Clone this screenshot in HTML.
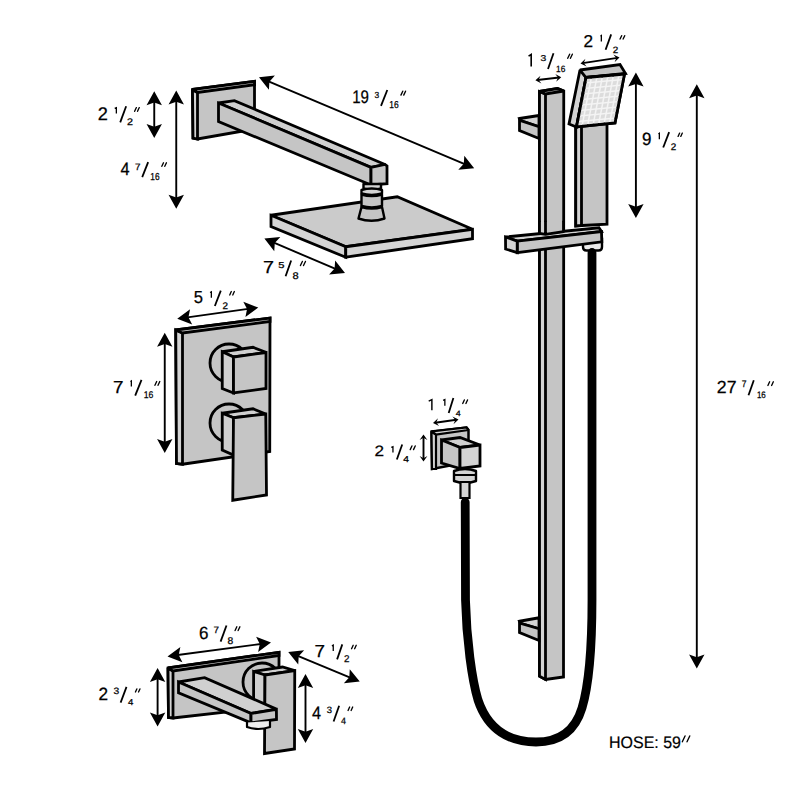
<!DOCTYPE html>
<html><head><meta charset="utf-8"><style>
html,body{margin:0;padding:0;background:#fff;width:800px;height:800px;overflow:hidden}
svg{display:block} text{text-rendering:geometricPrecision}
</style></head><body>
<svg width="800" height="800" viewBox="0 0 800 800">
<rect width="800" height="800" fill="#fff"/>
<text transform="translate(97.69,119.75) scale(0.996,1)" font-size="18.27" font-family="Liberation Sans, sans-serif" fill="#000" stroke="#000" stroke-width="0.25">2</text>
<path d="M116.35,113.40 L116.35,107.79 L114.70,108.42" fill="none" stroke="#000" stroke-width="1.30" stroke-linejoin="miter"/>
<line x1="120.19999999999999" y1="122.4" x2="126.15" y2="106.25" stroke="#000" stroke-width="1.8" stroke-linecap="butt"/>
<text transform="translate(126.96,124.60) scale(1.119,1)" font-size="9.60" font-family="Liberation Sans, sans-serif" fill="#000" stroke="#000" stroke-width="0.25">2</text>
<line x1="134.63" y1="111.33" x2="136.38" y2="107.58" stroke="#000" stroke-width="1.35" stroke-linecap="round"/>
<line x1="137.53" y1="111.33" x2="139.28" y2="107.58" stroke="#000" stroke-width="1.35" stroke-linecap="round"/>
<text transform="translate(120.62,174.90) scale(0.908,1)" font-size="18.02" font-family="Liberation Sans, sans-serif" fill="#000" stroke="#000" stroke-width="0.25">4</text>
<text transform="translate(135.10,169.60) scale(1.072,1)" font-size="9.23" font-family="Liberation Sans, sans-serif" fill="#000" stroke="#000" stroke-width="0.25">7</text>
<line x1="142.2" y1="177.1" x2="148.15" y2="162.1" stroke="#000" stroke-width="1.8" stroke-linecap="butt"/>
<text transform="translate(150.37,180.10) scale(0.818,1)" font-size="10.17" font-family="Liberation Sans, sans-serif" fill="#000" stroke="#000" stroke-width="0.25">16</text>
<line x1="161.83" y1="166.32" x2="163.48" y2="162.78" stroke="#000" stroke-width="1.35" stroke-linecap="round"/>
<line x1="164.78" y1="166.32" x2="166.43" y2="162.78" stroke="#000" stroke-width="1.35" stroke-linecap="round"/>
<text transform="translate(352.16,103.20) scale(0.828,1)" font-size="18.19" font-family="Liberation Sans, sans-serif" fill="#000" stroke="#000" stroke-width="0.25">19</text>
<text transform="translate(374.38,97.50) scale(0.966,1)" font-size="8.74" font-family="Liberation Sans, sans-serif" fill="#000" stroke="#000" stroke-width="0.25">3</text>
<line x1="381.0" y1="105.8" x2="387.29999999999995" y2="90" stroke="#000" stroke-width="1.8" stroke-linecap="butt"/>
<text transform="translate(389.36,108.40) scale(0.844,1)" font-size="10.03" font-family="Liberation Sans, sans-serif" fill="#000" stroke="#000" stroke-width="0.25">16</text>
<line x1="400.93" y1="95.12" x2="402.77" y2="91.17" stroke="#000" stroke-width="1.35" stroke-linecap="round"/>
<line x1="403.72" y1="95.12" x2="405.57" y2="91.17" stroke="#000" stroke-width="1.35" stroke-linecap="round"/>
<text transform="translate(262.99,273.25) scale(1.134,1)" font-size="17.44" font-family="Liberation Sans, sans-serif" fill="#000" stroke="#000" stroke-width="0.25">7</text>
<text transform="translate(278.15,268.00) scale(1.282,1)" font-size="8.72" font-family="Liberation Sans, sans-serif" fill="#000" stroke="#000" stroke-width="0.25">5</text>
<line x1="285.6" y1="276.25" x2="291.15" y2="260.5" stroke="#000" stroke-width="1.8" stroke-linecap="butt"/>
<text transform="translate(292.42,278.50) scale(1.144,1)" font-size="9.67" font-family="Liberation Sans, sans-serif" fill="#000" stroke="#000" stroke-width="0.25">8</text>
<line x1="300.43" y1="265.57" x2="302.36" y2="261.43" stroke="#000" stroke-width="1.35" stroke-linecap="round"/>
<line x1="303.52" y1="265.57" x2="305.46" y2="261.43" stroke="#000" stroke-width="1.35" stroke-linecap="round"/>
<path d="M531.19,66.40 L531.19,54.48 L528.55,56.11" fill="none" stroke="#000" stroke-width="1.61" stroke-linejoin="miter"/>
<text transform="translate(540.61,60.75) scale(1.203,1)" font-size="8.60" font-family="Liberation Sans, sans-serif" fill="#000" stroke="#000" stroke-width="0.25">3</text>
<line x1="548.0" y1="69" x2="553.5" y2="53.25" stroke="#000" stroke-width="1.8" stroke-linecap="butt"/>
<text transform="translate(556.12,71.60) scale(0.914,1)" font-size="9.10" font-family="Liberation Sans, sans-serif" fill="#000" stroke="#000" stroke-width="0.25">16</text>
<line x1="567.72" y1="58.33" x2="569.66" y2="54.17" stroke="#000" stroke-width="1.35" stroke-linecap="round"/>
<line x1="570.42" y1="58.33" x2="572.36" y2="54.17" stroke="#000" stroke-width="1.35" stroke-linecap="round"/>
<text transform="translate(583.54,46.75) scale(1.001,1)" font-size="17.19" font-family="Liberation Sans, sans-serif" fill="#000" stroke="#000" stroke-width="0.25">2</text>
<path d="M601.35,41.50 L601.35,35.49 L600.40,36.19" fill="none" stroke="#000" stroke-width="1.30" stroke-linejoin="miter"/>
<line x1="605.6" y1="49.75" x2="611.15" y2="34.4" stroke="#000" stroke-width="1.8" stroke-linecap="butt"/>
<text transform="translate(612.76,52.75) scale(1.085,1)" font-size="9.10" font-family="Liberation Sans, sans-serif" fill="#000" stroke="#000" stroke-width="0.25">2</text>
<line x1="620.07" y1="39.08" x2="621.66" y2="35.67" stroke="#000" stroke-width="1.35" stroke-linecap="round"/>
<line x1="623.12" y1="39.08" x2="624.71" y2="35.67" stroke="#000" stroke-width="1.35" stroke-linecap="round"/>
<text transform="translate(641.95,144.90) scale(0.956,1)" font-size="17.77" font-family="Liberation Sans, sans-serif" fill="#000" stroke="#000" stroke-width="0.25">9</text>
<path d="M659.35,139.25 L659.35,133.29 L658.40,133.98" fill="none" stroke="#000" stroke-width="1.30" stroke-linejoin="miter"/>
<line x1="663.2" y1="147.5" x2="669.15" y2="132.1" stroke="#000" stroke-width="1.8" stroke-linecap="butt"/>
<text transform="translate(670.76,150.10) scale(1.028,1)" font-size="9.60" font-family="Liberation Sans, sans-serif" fill="#000" stroke="#000" stroke-width="0.25">2</text>
<line x1="678.07" y1="136.42" x2="679.64" y2="133.08" stroke="#000" stroke-width="1.35" stroke-linecap="round"/>
<line x1="680.77" y1="136.42" x2="682.34" y2="133.08" stroke="#000" stroke-width="1.35" stroke-linecap="round"/>
<text transform="translate(716.82,393.00) scale(1.008,1)" font-size="17.55" font-family="Liberation Sans, sans-serif" fill="#000" stroke="#000" stroke-width="0.25">27</text>
<text transform="translate(741.76,386.90) scale(0.894,1)" font-size="9.59" font-family="Liberation Sans, sans-serif" fill="#000" stroke="#000" stroke-width="0.25">7</text>
<line x1="748.5" y1="395.2" x2="753.8" y2="380.3" stroke="#000" stroke-width="1.8" stroke-linecap="butt"/>
<text transform="translate(756.89,397.80) scale(0.849,1)" font-size="9.38" font-family="Liberation Sans, sans-serif" fill="#000" stroke="#000" stroke-width="0.25">16</text>
<line x1="767.92" y1="385.43" x2="769.63" y2="381.78" stroke="#000" stroke-width="1.35" stroke-linecap="round"/>
<line x1="771.62" y1="385.43" x2="773.33" y2="381.78" stroke="#000" stroke-width="1.35" stroke-linecap="round"/>
<text transform="translate(193.74,303.00) scale(0.950,1)" font-size="17.44" font-family="Liberation Sans, sans-serif" fill="#000" stroke="#000" stroke-width="0.25">5</text>
<path d="M211.35,297.75 L211.35,291.79 L210.05,292.48" fill="none" stroke="#000" stroke-width="1.30" stroke-linejoin="miter"/>
<line x1="214.85" y1="306" x2="220.8" y2="290.6" stroke="#000" stroke-width="1.8" stroke-linecap="butt"/>
<text transform="translate(222.41,308.60) scale(1.028,1)" font-size="9.60" font-family="Liberation Sans, sans-serif" fill="#000" stroke="#000" stroke-width="0.25">2</text>
<line x1="229.73" y1="294.93" x2="231.29" y2="291.57" stroke="#000" stroke-width="1.35" stroke-linecap="round"/>
<line x1="232.78" y1="294.93" x2="234.34" y2="291.57" stroke="#000" stroke-width="1.35" stroke-linecap="round"/>
<text transform="translate(113.04,392.60) scale(1.084,1)" font-size="17.44" font-family="Liberation Sans, sans-serif" fill="#000" stroke="#000" stroke-width="0.25">7</text>
<path d="M131.35,386.60 L131.35,380.99 L130.40,381.62" fill="none" stroke="#000" stroke-width="1.30" stroke-linejoin="miter"/>
<line x1="135.2" y1="395.6" x2="141.5" y2="379.9" stroke="#000" stroke-width="1.8" stroke-linecap="butt"/>
<text transform="translate(143.74,397.90) scale(0.890,1)" font-size="9.74" font-family="Liberation Sans, sans-serif" fill="#000" stroke="#000" stroke-width="0.25">16</text>
<line x1="154.93" y1="385.32" x2="156.68" y2="381.57" stroke="#000" stroke-width="1.35" stroke-linecap="round"/>
<line x1="158.03" y1="385.32" x2="159.78" y2="381.57" stroke="#000" stroke-width="1.35" stroke-linecap="round"/>
<path d="M431.88,410.30 L431.88,399.63 L428.70,401.09" fill="none" stroke="#000" stroke-width="1.44" stroke-linejoin="miter"/>
<path d="M444.85,405.70 L444.85,399.59 L443.10,400.31" fill="none" stroke="#000" stroke-width="1.30" stroke-linejoin="miter"/>
<line x1="448.70000000000005" y1="413" x2="453.4" y2="397.9" stroke="#000" stroke-width="1.8" stroke-linecap="butt"/>
<text transform="translate(455.79,415.60) scale(1.159,1)" font-size="7.70" font-family="Liberation Sans, sans-serif" fill="#000" stroke="#000" stroke-width="0.25">4</text>
<line x1="462.72" y1="403.43" x2="464.33" y2="399.98" stroke="#000" stroke-width="1.35" stroke-linecap="round"/>
<line x1="465.92" y1="403.43" x2="467.53" y2="399.98" stroke="#000" stroke-width="1.35" stroke-linecap="round"/>
<text transform="translate(374.39,456.30) scale(1.144,1)" font-size="15.04" font-family="Liberation Sans, sans-serif" fill="#000" stroke="#000" stroke-width="0.25">2</text>
<path d="M392.95,452.50 L392.95,446.79 L391.30,447.44" fill="none" stroke="#000" stroke-width="1.30" stroke-linejoin="miter"/>
<line x1="396.85" y1="459.55" x2="402.2" y2="444.5" stroke="#000" stroke-width="1.8" stroke-linecap="butt"/>
<text transform="translate(403.26,461.50) scale(1.203,1)" font-size="8.58" font-family="Liberation Sans, sans-serif" fill="#000" stroke="#000" stroke-width="0.25">4</text>
<line x1="410.22" y1="449.62" x2="411.93" y2="445.98" stroke="#000" stroke-width="1.35" stroke-linecap="round"/>
<line x1="413.52" y1="449.62" x2="415.23" y2="445.98" stroke="#000" stroke-width="1.35" stroke-linecap="round"/>
<text transform="translate(198.88,638.60) scale(0.962,1)" font-size="17.69" font-family="Liberation Sans, sans-serif" fill="#000" stroke="#000" stroke-width="0.25">6</text>
<text transform="translate(213.50,632.60) scale(1.072,1)" font-size="9.23" font-family="Liberation Sans, sans-serif" fill="#000" stroke="#000" stroke-width="0.25">7</text>
<line x1="220.6" y1="641.6" x2="226.5" y2="625.5" stroke="#000" stroke-width="1.8" stroke-linecap="butt"/>
<text transform="translate(227.46,643.90) scale(1.059,1)" font-size="9.74" font-family="Liberation Sans, sans-serif" fill="#000" stroke="#000" stroke-width="0.25">8</text>
<line x1="235.08" y1="630.58" x2="236.85" y2="626.77" stroke="#000" stroke-width="1.35" stroke-linecap="round"/>
<line x1="238.12" y1="630.58" x2="239.90" y2="626.77" stroke="#000" stroke-width="1.35" stroke-linecap="round"/>
<text transform="translate(314.54,656.75) scale(1.084,1)" font-size="17.44" font-family="Liberation Sans, sans-serif" fill="#000" stroke="#000" stroke-width="0.25">7</text>
<path d="M333.25,651.10 L333.25,645.14 L331.90,645.83" fill="none" stroke="#000" stroke-width="1.30" stroke-linejoin="miter"/>
<line x1="337.1" y1="659.4" x2="342.29999999999995" y2="644.4" stroke="#000" stroke-width="1.8" stroke-linecap="butt"/>
<text transform="translate(343.91,662.40) scale(1.013,1)" font-size="9.74" font-family="Liberation Sans, sans-serif" fill="#000" stroke="#000" stroke-width="0.25">2</text>
<line x1="351.57" y1="648.73" x2="353.18" y2="645.27" stroke="#000" stroke-width="1.35" stroke-linecap="round"/>
<line x1="354.62" y1="648.73" x2="356.23" y2="645.27" stroke="#000" stroke-width="1.35" stroke-linecap="round"/>
<text transform="translate(98.54,700.00) scale(0.969,1)" font-size="17.77" font-family="Liberation Sans, sans-serif" fill="#000" stroke="#000" stroke-width="0.25">2</text>
<text transform="translate(113.61,694.40) scale(1.127,1)" font-size="9.17" font-family="Liberation Sans, sans-serif" fill="#000" stroke="#000" stroke-width="0.25">3</text>
<line x1="120.6" y1="702.6" x2="126.5" y2="686.9" stroke="#000" stroke-width="1.8" stroke-linecap="butt"/>
<text transform="translate(128.03,704.90) scale(1.103,1)" font-size="8.72" font-family="Liberation Sans, sans-serif" fill="#000" stroke="#000" stroke-width="0.25">4</text>
<line x1="135.43" y1="691.93" x2="136.83" y2="688.92" stroke="#000" stroke-width="1.35" stroke-linecap="round"/>
<line x1="138.53" y1="691.93" x2="139.93" y2="688.92" stroke="#000" stroke-width="1.35" stroke-linecap="round"/>
<text transform="translate(312.03,718.90) scale(0.903,1)" font-size="18.02" font-family="Liberation Sans, sans-serif" fill="#000" stroke="#000" stroke-width="0.25">4</text>
<text transform="translate(326.64,713.25) scale(1.044,1)" font-size="9.10" font-family="Liberation Sans, sans-serif" fill="#000" stroke="#000" stroke-width="0.25">3</text>
<line x1="333.6" y1="721.5" x2="339.15" y2="705.75" stroke="#000" stroke-width="1.8" stroke-linecap="butt"/>
<text transform="translate(341.04,723.75) scale(0.967,1)" font-size="9.23" font-family="Liberation Sans, sans-serif" fill="#000" stroke="#000" stroke-width="0.25">4</text>
<line x1="348.07" y1="710.43" x2="349.64" y2="707.07" stroke="#000" stroke-width="1.35" stroke-linecap="round"/>
<line x1="351.12" y1="710.43" x2="352.69" y2="707.07" stroke="#000" stroke-width="1.35" stroke-linecap="round"/>
<text x="609" y="747.5" font-size="16.6" font-family="Liberation Sans, sans-serif" fill="#000" stroke="#000" stroke-width="0.2" textLength="72" lengthAdjust="spacingAndGlyphs">HOSE: 59</text>
<line x1="682.32" y1="741.83" x2="685.05" y2="735.97" stroke="#000" stroke-width="1.35" stroke-linecap="round"/>
<line x1="687.02" y1="741.83" x2="689.75" y2="735.97" stroke="#000" stroke-width="1.35" stroke-linecap="round"/>
<line x1="154.25" y1="101.55" x2="154.25" y2="127.7" stroke="#000" stroke-width="1.9" stroke-linecap="butt"/>
<polygon points="154.25,91.25 161.95,105.25 154.25,102.55 146.55,105.25" fill="#000"/>
<polygon points="154.25,138.00 146.55,124.00 154.25,126.70 161.95,124.00" fill="#000"/>
<line x1="176.25" y1="100.8" x2="176.25" y2="198.45" stroke="#000" stroke-width="1.9" stroke-linecap="butt"/>
<polygon points="176.25,90.50 183.95,104.50 176.25,101.80 168.55,104.50" fill="#000"/>
<polygon points="176.25,208.75 168.55,194.75 176.25,197.45 183.95,194.75" fill="#000"/>
<line x1="268.4874831934045" y1="81.25969608011218" x2="464.7125168065955" y2="164.1903039198878" stroke="#000" stroke-width="1.9" stroke-linecap="butt"/>
<polygon points="259.00,77.25 274.89,75.61 269.41,81.65 268.90,89.79" fill="#000"/>
<polygon points="474.20,168.20 458.31,169.84 463.79,163.80 464.30,155.66" fill="#000"/>
<line x1="273.8732625410399" y1="242.64317904977383" x2="335.5267374589601" y2="268.95682095022613" stroke="#000" stroke-width="1.9" stroke-linecap="butt"/>
<polygon points="264.40,238.60 280.30,237.01 274.79,243.04 274.25,251.18" fill="#000"/>
<polygon points="345.00,273.00 329.10,274.59 334.61,268.56 335.15,260.42" fill="#000"/>
<line x1="537.5853325722464" y1="79.9963830670507" x2="559.0646674277535" y2="77.5036169329493" stroke="#000" stroke-width="1.9" stroke-linecap="butt"/>
<polygon points="535.40,80.25 540.51,75.73 538.58,79.88 541.41,83.48" fill="#000"/>
<polygon points="561.25,77.25 556.14,81.77 558.07,77.62 555.24,74.02" fill="#000"/>
<line x1="582.6744177348313" y1="63.16547419464133" x2="617.3255822651687" y2="57.83452580535867" stroke="#000" stroke-width="1.9" stroke-linecap="butt"/>
<polygon points="580.50,63.50 585.44,58.79 583.66,63.01 586.63,66.50" fill="#000"/>
<polygon points="619.50,57.50 614.56,62.21 616.34,57.99 613.37,54.50" fill="#000"/>
<line x1="635.9" y1="82.89999999999999" x2="635.9" y2="207.7" stroke="#000" stroke-width="1.9" stroke-linecap="butt"/>
<polygon points="635.90,72.60 643.60,86.60 635.90,83.90 628.20,86.60" fill="#000"/>
<polygon points="635.90,218.00 628.20,204.00 635.90,206.70 643.60,204.00" fill="#000"/>
<line x1="696.8" y1="94.6" x2="696.8" y2="658.2" stroke="#000" stroke-width="1.9" stroke-linecap="butt"/>
<polygon points="696.80,84.30 704.50,98.30 696.80,95.60 689.10,98.30" fill="#000"/>
<polygon points="696.80,668.50 689.10,654.50 696.80,657.20 704.50,654.50" fill="#000"/>
<line x1="187.45207041373084" y1="317.33304577587074" x2="248.04792958626916" y2="308.91695422412926" stroke="#000" stroke-width="1.9" stroke-linecap="butt"/>
<polygon points="177.25,318.75 190.06,309.20 188.44,317.20 192.18,324.45" fill="#000"/>
<polygon points="258.25,307.50 245.44,317.05 247.06,309.05 243.32,301.80" fill="#000"/>
<line x1="164.75" y1="343.05" x2="164.75" y2="442.7" stroke="#000" stroke-width="1.9" stroke-linecap="butt"/>
<polygon points="164.75,332.75 172.45,346.75 164.75,344.05 157.05,346.75" fill="#000"/>
<polygon points="164.75,453.00 157.05,439.00 164.75,441.70 172.45,439.00" fill="#000"/>
<line x1="435.1795654751297" y1="422.700843954394" x2="456.3204345248703" y2="419.799156045606" stroke="#000" stroke-width="1.9" stroke-linecap="butt"/>
<polygon points="433.00,423.00 438.02,418.37 436.17,422.56 439.08,426.10" fill="#000"/>
<polygon points="458.50,419.50 453.48,424.13 455.33,419.94 452.42,416.40" fill="#000"/>
<line x1="423.5" y1="436.7" x2="423.5" y2="459.3" stroke="#000" stroke-width="1.9" stroke-linecap="butt"/>
<polygon points="423.50,434.50 427.40,440.10 423.50,437.70 419.60,440.10" fill="#000"/>
<polygon points="423.50,461.50 419.60,455.90 423.50,458.30 427.40,455.90" fill="#000"/>
<line x1="177.70964737703113" y1="655.0387136830625" x2="260.79035262296884" y2="643.9612863169375" stroke="#000" stroke-width="1.9" stroke-linecap="butt"/>
<polygon points="167.50,656.40 180.36,646.92 178.70,654.91 182.39,662.18" fill="#000"/>
<polygon points="271.00,642.60 258.14,652.08 259.80,644.09 256.11,636.82" fill="#000"/>
<line x1="297.7667246306418" y1="655.9397908960419" x2="350.2332753693582" y2="677.6602091039581" stroke="#000" stroke-width="1.9" stroke-linecap="butt"/>
<polygon points="288.25,652.00 304.13,650.24 298.69,656.32 298.24,664.47" fill="#000"/>
<polygon points="359.75,681.60 343.87,683.36 349.31,677.28 349.76,669.13" fill="#000"/>
<line x1="157.6" y1="678.3" x2="157.6" y2="716.2" stroke="#000" stroke-width="1.9" stroke-linecap="butt"/>
<polygon points="157.60,668.00 165.30,682.00 157.60,679.30 149.90,682.00" fill="#000"/>
<polygon points="157.60,726.50 149.90,712.50 157.60,715.20 165.30,712.50" fill="#000"/>
<line x1="305.5" y1="684.3" x2="305.5" y2="732.7" stroke="#000" stroke-width="1.9" stroke-linecap="butt"/>
<polygon points="305.50,674.00 313.20,688.00 305.50,685.30 297.80,688.00" fill="#000"/>
<polygon points="305.50,743.00 297.80,729.00 305.50,731.70 313.20,729.00" fill="#000"/>
<polygon points="192.50,89.50 254.50,81.25 254.50,129.00 197.50,139.00 193.00,138.00" fill="#c5c5c5" stroke="#000" stroke-width="2.8" stroke-linejoin="miter" stroke-miterlimit="2"/>
<polygon points="192.50,89.50 197.50,92.50 197.50,139.00 193.00,138.00" fill="#d4d4d4" stroke="#000" stroke-width="2.8" stroke-linejoin="miter" stroke-miterlimit="2"/>
<polygon points="192.50,89.50 254.50,81.25 254.50,84.75 197.50,92.50" fill="#d4d4d4" stroke="#000" stroke-width="2.8" stroke-linejoin="miter" stroke-miterlimit="2"/>
<polygon points="218.50,103.00 234.40,100.60 385.00,164.50 371.00,167.40" fill="#d0d0d0" stroke="#000" stroke-width="2.8" stroke-linejoin="miter" stroke-miterlimit="2"/>
<polygon points="218.50,103.00 371.00,167.40 371.00,185.00 218.50,121.60" fill="#c5c5c5" stroke="#000" stroke-width="2.8" stroke-linejoin="miter" stroke-miterlimit="2"/>
<polygon points="371.00,167.40 385.00,164.50 387.00,166.00 387.00,183.70 371.00,185.00" fill="#c5c5c5" stroke="#000" stroke-width="2.8" stroke-linejoin="miter" stroke-miterlimit="2"/>
<polygon points="271.00,215.25 397.25,196.75 472.50,229.25 345.75,246.75" fill="#cbcbcb" stroke="#000" stroke-width="2.8" stroke-linejoin="miter" stroke-miterlimit="2"/>
<polygon points="271.00,215.25 345.75,246.75 345.75,257.25 271.00,226.50" fill="#d4d4d4" stroke="#000" stroke-width="2.8" stroke-linejoin="miter" stroke-miterlimit="2"/>
<polygon points="345.75,246.75 472.50,229.25 472.50,238.75 345.75,257.25" fill="#d4d4d4" stroke="#000" stroke-width="2.8" stroke-linejoin="miter" stroke-miterlimit="2"/>
<path d="M363.5,184 L363.5,188.5 Q372.25,191.5 381,188.5 L381,184 Z" fill="#d4d4d4" stroke="#000" stroke-width="2.4" stroke-linejoin="round" stroke-linecap="round" />
<path d="M361.5,190 Q371.75,187 382,190 L382,193.5 Q371.75,196.5 361.5,193.5 Z" fill="#d4d4d4" stroke="#000" stroke-width="2.4" stroke-linejoin="round" stroke-linecap="round" />
<path d="M361.5,194.5 Q371.75,197.5 382,194.5 L382,206 Q371.75,209 361.5,206 Z" fill="#c5c5c5" stroke="#000" stroke-width="2.4" stroke-linejoin="round" stroke-linecap="round" />
<path d="M361.5,207 Q371.75,210 382,207 L384.5,218.5 Q371.5,223 358.5,218.5 Z" fill="#c5c5c5" stroke="#000" stroke-width="2.4" stroke-linejoin="round" stroke-linecap="round" />
<polygon points="539.50,91.50 557.50,88.50 563.75,91.00 563.50,677.00 545.50,679.50 539.50,676.25" fill="#c5c5c5" stroke="#000" stroke-width="2.8" stroke-linejoin="miter" stroke-miterlimit="2"/>
<polygon points="539.50,91.50 545.50,94.00 545.50,679.50 539.50,676.25" fill="#d4d4d4" stroke="#000" stroke-width="2.8" stroke-linejoin="miter" stroke-miterlimit="2"/>
<polygon points="539.50,91.50 557.50,88.50 563.75,91.00 545.50,94.00" fill="#d4d4d4" stroke="#000" stroke-width="2.8" stroke-linejoin="miter" stroke-miterlimit="2"/>
<polygon points="519.50,118.50 539.00,115.50 539.00,126.75 520.50,120.50" fill="#d4d4d4" stroke="#000" stroke-width="2.8" stroke-linejoin="miter" stroke-miterlimit="2"/>
<polygon points="519.50,118.50 520.50,120.50 539.00,126.75 539.00,138.50 519.50,130.50" fill="#c5c5c5" stroke="#000" stroke-width="2.8" stroke-linejoin="miter" stroke-miterlimit="2"/>
<polygon points="519.50,621.25 539.00,617.75 539.00,628.75 520.50,623.25" fill="#d4d4d4" stroke="#000" stroke-width="2.8" stroke-linejoin="miter" stroke-miterlimit="2"/>
<polygon points="519.50,621.25 520.50,623.25 539.00,628.75 539.00,640.50 519.50,632.50" fill="#c5c5c5" stroke="#000" stroke-width="2.8" stroke-linejoin="miter" stroke-miterlimit="2"/>
<polygon points="575.75,120.00 607.00,116.00 607.00,224.25 582.00,225.50 575.75,226.00" fill="#c5c5c5" stroke="#000" stroke-width="2.8" stroke-linejoin="miter" stroke-miterlimit="2"/>
<polygon points="575.75,120.00 581.50,120.00 581.50,225.50 575.75,226.00" fill="#d4d4d4" stroke="#000" stroke-width="2.8" stroke-linejoin="miter" stroke-miterlimit="2"/>
<polygon points="580.00,70.00 586.00,77.50 576.50,127.00 569.00,124.00" fill="#d4d4d4" stroke="#000" stroke-width="2.8" stroke-linejoin="miter" stroke-miterlimit="2"/>
<polygon points="580.00,70.00 620.00,64.50 625.50,73.50 586.00,77.50" fill="#c4c4c4" stroke="#000" stroke-width="2.8" stroke-linejoin="miter" stroke-miterlimit="2"/>
<polygon points="586.00,77.50 624.50,74.00 615.00,123.00 576.50,127.00" fill="#f4f4f4" stroke="#000" stroke-width="2.8" stroke-linejoin="miter" stroke-miterlimit="2"/>
<rect x="-0.36" y="-0.36" width="0.72" height="0.72" fill="#dcdcdc" transform="matrix(5.500,-0.500,-1.056,5.500,588.22,80.00)"/>
<rect x="-0.36" y="-0.36" width="0.72" height="0.72" fill="#dcdcdc" transform="matrix(5.500,-0.500,-1.056,5.500,587.17,85.50)"/>
<rect x="-0.36" y="-0.36" width="0.72" height="0.72" fill="#dcdcdc" transform="matrix(5.500,-0.500,-1.056,5.500,586.11,91.00)"/>
<rect x="-0.36" y="-0.36" width="0.72" height="0.72" fill="#dcdcdc" transform="matrix(5.500,-0.500,-1.056,5.500,585.06,96.50)"/>
<rect x="-0.36" y="-0.36" width="0.72" height="0.72" fill="#dcdcdc" transform="matrix(5.500,-0.500,-1.056,5.500,584.00,102.00)"/>
<rect x="-0.36" y="-0.36" width="0.72" height="0.72" fill="#dcdcdc" transform="matrix(5.500,-0.500,-1.056,5.500,582.94,107.50)"/>
<rect x="-0.36" y="-0.36" width="0.72" height="0.72" fill="#dcdcdc" transform="matrix(5.500,-0.500,-1.056,5.500,581.89,113.00)"/>
<rect x="-0.36" y="-0.36" width="0.72" height="0.72" fill="#dcdcdc" transform="matrix(5.500,-0.500,-1.056,5.500,580.83,118.50)"/>
<rect x="-0.36" y="-0.36" width="0.72" height="0.72" fill="#dcdcdc" transform="matrix(5.500,-0.500,-1.056,5.500,579.78,124.00)"/>
<rect x="-0.36" y="-0.36" width="0.72" height="0.72" fill="#dcdcdc" transform="matrix(5.500,-0.500,-1.056,5.500,593.72,79.50)"/>
<rect x="-0.36" y="-0.36" width="0.72" height="0.72" fill="#dcdcdc" transform="matrix(5.500,-0.500,-1.056,5.500,592.67,85.00)"/>
<rect x="-0.36" y="-0.36" width="0.72" height="0.72" fill="#dcdcdc" transform="matrix(5.500,-0.500,-1.056,5.500,591.61,90.50)"/>
<rect x="-0.36" y="-0.36" width="0.72" height="0.72" fill="#dcdcdc" transform="matrix(5.500,-0.500,-1.056,5.500,590.56,96.00)"/>
<rect x="-0.36" y="-0.36" width="0.72" height="0.72" fill="#dcdcdc" transform="matrix(5.500,-0.500,-1.056,5.500,589.50,101.50)"/>
<rect x="-0.36" y="-0.36" width="0.72" height="0.72" fill="#dcdcdc" transform="matrix(5.500,-0.500,-1.056,5.500,588.44,107.00)"/>
<rect x="-0.36" y="-0.36" width="0.72" height="0.72" fill="#dcdcdc" transform="matrix(5.500,-0.500,-1.056,5.500,587.39,112.50)"/>
<rect x="-0.36" y="-0.36" width="0.72" height="0.72" fill="#dcdcdc" transform="matrix(5.500,-0.500,-1.056,5.500,586.33,118.00)"/>
<rect x="-0.36" y="-0.36" width="0.72" height="0.72" fill="#dcdcdc" transform="matrix(5.500,-0.500,-1.056,5.500,585.28,123.50)"/>
<rect x="-0.36" y="-0.36" width="0.72" height="0.72" fill="#dcdcdc" transform="matrix(5.500,-0.500,-1.056,5.500,599.22,79.00)"/>
<rect x="-0.36" y="-0.36" width="0.72" height="0.72" fill="#dcdcdc" transform="matrix(5.500,-0.500,-1.056,5.500,598.17,84.50)"/>
<rect x="-0.36" y="-0.36" width="0.72" height="0.72" fill="#dcdcdc" transform="matrix(5.500,-0.500,-1.056,5.500,597.11,90.00)"/>
<rect x="-0.36" y="-0.36" width="0.72" height="0.72" fill="#dcdcdc" transform="matrix(5.500,-0.500,-1.056,5.500,596.06,95.50)"/>
<rect x="-0.36" y="-0.36" width="0.72" height="0.72" fill="#dcdcdc" transform="matrix(5.500,-0.500,-1.056,5.500,595.00,101.00)"/>
<rect x="-0.36" y="-0.36" width="0.72" height="0.72" fill="#dcdcdc" transform="matrix(5.500,-0.500,-1.056,5.500,593.94,106.50)"/>
<rect x="-0.36" y="-0.36" width="0.72" height="0.72" fill="#dcdcdc" transform="matrix(5.500,-0.500,-1.056,5.500,592.89,112.00)"/>
<rect x="-0.36" y="-0.36" width="0.72" height="0.72" fill="#dcdcdc" transform="matrix(5.500,-0.500,-1.056,5.500,591.83,117.50)"/>
<rect x="-0.36" y="-0.36" width="0.72" height="0.72" fill="#dcdcdc" transform="matrix(5.500,-0.500,-1.056,5.500,590.78,123.00)"/>
<rect x="-0.36" y="-0.36" width="0.72" height="0.72" fill="#dcdcdc" transform="matrix(5.500,-0.500,-1.056,5.500,604.72,78.50)"/>
<rect x="-0.36" y="-0.36" width="0.72" height="0.72" fill="#dcdcdc" transform="matrix(5.500,-0.500,-1.056,5.500,603.67,84.00)"/>
<rect x="-0.36" y="-0.36" width="0.72" height="0.72" fill="#dcdcdc" transform="matrix(5.500,-0.500,-1.056,5.500,602.61,89.50)"/>
<rect x="-0.36" y="-0.36" width="0.72" height="0.72" fill="#dcdcdc" transform="matrix(5.500,-0.500,-1.056,5.500,601.56,95.00)"/>
<rect x="-0.36" y="-0.36" width="0.72" height="0.72" fill="#dcdcdc" transform="matrix(5.500,-0.500,-1.056,5.500,600.50,100.50)"/>
<rect x="-0.36" y="-0.36" width="0.72" height="0.72" fill="#dcdcdc" transform="matrix(5.500,-0.500,-1.056,5.500,599.44,106.00)"/>
<rect x="-0.36" y="-0.36" width="0.72" height="0.72" fill="#dcdcdc" transform="matrix(5.500,-0.500,-1.056,5.500,598.39,111.50)"/>
<rect x="-0.36" y="-0.36" width="0.72" height="0.72" fill="#dcdcdc" transform="matrix(5.500,-0.500,-1.056,5.500,597.33,117.00)"/>
<rect x="-0.36" y="-0.36" width="0.72" height="0.72" fill="#dcdcdc" transform="matrix(5.500,-0.500,-1.056,5.500,596.28,122.50)"/>
<rect x="-0.36" y="-0.36" width="0.72" height="0.72" fill="#dcdcdc" transform="matrix(5.500,-0.500,-1.056,5.500,610.22,78.00)"/>
<rect x="-0.36" y="-0.36" width="0.72" height="0.72" fill="#dcdcdc" transform="matrix(5.500,-0.500,-1.056,5.500,609.17,83.50)"/>
<rect x="-0.36" y="-0.36" width="0.72" height="0.72" fill="#dcdcdc" transform="matrix(5.500,-0.500,-1.056,5.500,608.11,89.00)"/>
<rect x="-0.36" y="-0.36" width="0.72" height="0.72" fill="#dcdcdc" transform="matrix(5.500,-0.500,-1.056,5.500,607.06,94.50)"/>
<rect x="-0.36" y="-0.36" width="0.72" height="0.72" fill="#dcdcdc" transform="matrix(5.500,-0.500,-1.056,5.500,606.00,100.00)"/>
<rect x="-0.36" y="-0.36" width="0.72" height="0.72" fill="#dcdcdc" transform="matrix(5.500,-0.500,-1.056,5.500,604.94,105.50)"/>
<rect x="-0.36" y="-0.36" width="0.72" height="0.72" fill="#dcdcdc" transform="matrix(5.500,-0.500,-1.056,5.500,603.89,111.00)"/>
<rect x="-0.36" y="-0.36" width="0.72" height="0.72" fill="#dcdcdc" transform="matrix(5.500,-0.500,-1.056,5.500,602.83,116.50)"/>
<rect x="-0.36" y="-0.36" width="0.72" height="0.72" fill="#dcdcdc" transform="matrix(5.500,-0.500,-1.056,5.500,601.78,122.00)"/>
<rect x="-0.36" y="-0.36" width="0.72" height="0.72" fill="#dcdcdc" transform="matrix(5.500,-0.500,-1.056,5.500,615.72,77.50)"/>
<rect x="-0.36" y="-0.36" width="0.72" height="0.72" fill="#dcdcdc" transform="matrix(5.500,-0.500,-1.056,5.500,614.67,83.00)"/>
<rect x="-0.36" y="-0.36" width="0.72" height="0.72" fill="#dcdcdc" transform="matrix(5.500,-0.500,-1.056,5.500,613.61,88.50)"/>
<rect x="-0.36" y="-0.36" width="0.72" height="0.72" fill="#dcdcdc" transform="matrix(5.500,-0.500,-1.056,5.500,612.56,94.00)"/>
<rect x="-0.36" y="-0.36" width="0.72" height="0.72" fill="#dcdcdc" transform="matrix(5.500,-0.500,-1.056,5.500,611.50,99.50)"/>
<rect x="-0.36" y="-0.36" width="0.72" height="0.72" fill="#dcdcdc" transform="matrix(5.500,-0.500,-1.056,5.500,610.44,105.00)"/>
<rect x="-0.36" y="-0.36" width="0.72" height="0.72" fill="#dcdcdc" transform="matrix(5.500,-0.500,-1.056,5.500,609.39,110.50)"/>
<rect x="-0.36" y="-0.36" width="0.72" height="0.72" fill="#dcdcdc" transform="matrix(5.500,-0.500,-1.056,5.500,608.33,116.00)"/>
<rect x="-0.36" y="-0.36" width="0.72" height="0.72" fill="#dcdcdc" transform="matrix(5.500,-0.500,-1.056,5.500,607.28,121.50)"/>
<rect x="-0.36" y="-0.36" width="0.72" height="0.72" fill="#dcdcdc" transform="matrix(5.500,-0.500,-1.056,5.500,621.22,77.00)"/>
<rect x="-0.36" y="-0.36" width="0.72" height="0.72" fill="#dcdcdc" transform="matrix(5.500,-0.500,-1.056,5.500,620.17,82.50)"/>
<rect x="-0.36" y="-0.36" width="0.72" height="0.72" fill="#dcdcdc" transform="matrix(5.500,-0.500,-1.056,5.500,619.11,88.00)"/>
<rect x="-0.36" y="-0.36" width="0.72" height="0.72" fill="#dcdcdc" transform="matrix(5.500,-0.500,-1.056,5.500,618.06,93.50)"/>
<rect x="-0.36" y="-0.36" width="0.72" height="0.72" fill="#dcdcdc" transform="matrix(5.500,-0.500,-1.056,5.500,617.00,99.00)"/>
<rect x="-0.36" y="-0.36" width="0.72" height="0.72" fill="#dcdcdc" transform="matrix(5.500,-0.500,-1.056,5.500,615.94,104.50)"/>
<rect x="-0.36" y="-0.36" width="0.72" height="0.72" fill="#dcdcdc" transform="matrix(5.500,-0.500,-1.056,5.500,614.89,110.00)"/>
<rect x="-0.36" y="-0.36" width="0.72" height="0.72" fill="#dcdcdc" transform="matrix(5.500,-0.500,-1.056,5.500,613.83,115.50)"/>
<rect x="-0.36" y="-0.36" width="0.72" height="0.72" fill="#dcdcdc" transform="matrix(5.500,-0.500,-1.056,5.500,612.78,121.00)"/>
<polygon points="586.00,77.50 624.50,74.00 615.00,123.00 576.50,127.00" fill="none" stroke="#000" stroke-width="2.8" stroke-linejoin="miter" stroke-miterlimit="2"/>
<path d="M583,238 L583,247 Q583,250.5 586.5,250.5 L598.5,250.5 Q602,250.5 602,247 L602,238 Z" fill="#ececec" stroke="#000" stroke-width="2.4" stroke-linejoin="round" stroke-linecap="round" />
<polygon points="505.50,237.00 599.00,227.80 601.50,231.50 517.20,241.10" fill="#d4d4d4" stroke="#000" stroke-width="2.8" stroke-linejoin="miter" stroke-miterlimit="2"/>
<polygon points="517.20,241.10 601.50,231.50 601.80,241.80 517.20,252.70" fill="#c5c5c5" stroke="#000" stroke-width="2.8" stroke-linejoin="miter" stroke-miterlimit="2"/>
<polygon points="505.50,237.00 517.20,241.10 517.20,252.70 505.60,249.00" fill="#d4d4d4" stroke="#000" stroke-width="2.8" stroke-linejoin="miter" stroke-miterlimit="2"/>
<polygon points="539.5,222 563.5,222 563.5,231.6 545.5,234.4 539.5,233.4" fill="#c5c5c5"/>
<polygon points="539.5,222 545.5,222 545.5,234.4 539.5,233.4" fill="#d4d4d4"/>
<path d="M539.5,222 L539.5,233.4 L545.5,234.4 L563.5,231.6 L563.5,222 M545.5,222 L545.5,234.4" fill="none" stroke="#000" stroke-width="2.8" stroke-linejoin="round" stroke-linecap="round" />
<polygon points="431.50,431.50 466.50,427.50 468.50,430.00 468.50,462.00 432.00,469.00" fill="#c5c5c5" stroke="#000" stroke-width="2.5" stroke-linejoin="miter" stroke-miterlimit="2"/>
<polygon points="431.50,431.50 436.00,434.50 436.00,469.00 432.00,469.00" fill="#d4d4d4" stroke="#000" stroke-width="2.2" stroke-linejoin="miter" stroke-miterlimit="2"/>
<polygon points="431.50,431.50 466.50,427.50 468.50,430.00 436.00,434.50" fill="#d4d4d4" stroke="#000" stroke-width="2.2" stroke-linejoin="miter" stroke-miterlimit="2"/>
<polygon points="441.50,440.00 460.00,437.50 480.00,445.00 460.00,447.50" fill="#d0d0d0" stroke="#000" stroke-width="2.8" stroke-linejoin="miter" stroke-miterlimit="2"/>
<polygon points="441.50,440.00 460.00,447.50 460.00,468.50 441.50,463.00" fill="#c5c5c5" stroke="#000" stroke-width="2.8" stroke-linejoin="miter" stroke-miterlimit="2"/>
<polygon points="460.00,447.50 480.00,445.00 480.00,466.00 460.00,468.50" fill="#d4d4d4" stroke="#000" stroke-width="2.8" stroke-linejoin="miter" stroke-miterlimit="2"/>
<path d="M454,471 L454,481 Q465,485 476,481 L476,471 Q465,467 454,471 Z" fill="#d4d4d4" stroke="#000" stroke-width="2.4" stroke-linejoin="round" stroke-linecap="round" />
<line x1="454" y1="475" x2="476" y2="475" stroke="#000" stroke-width="2" stroke-linecap="round"/>
<polygon points="460.50,482.00 469.50,482.00 469.50,498.00 460.50,498.00" fill="#d4d4d4" stroke="#000" stroke-width="2.2" stroke-linejoin="miter" stroke-miterlimit="2"/>
<polygon points="175.75,330.00 270.00,318.00 269.75,451.50 182.50,464.25 176.50,463.50" fill="#c5c5c5" stroke="#000" stroke-width="2.8" stroke-linejoin="miter" stroke-miterlimit="2"/>
<polygon points="175.75,330.00 182.50,333.00 182.50,464.25 176.50,463.50" fill="#d4d4d4" stroke="#000" stroke-width="2.8" stroke-linejoin="miter" stroke-miterlimit="2"/>
<polygon points="175.75,330.00 270.00,318.00 270.00,321.50 182.50,333.00" fill="#d4d4d4" stroke="#000" stroke-width="2.8" stroke-linejoin="miter" stroke-miterlimit="2"/>
<circle cx="229" cy="363" r="19" fill="#c5c5c5" stroke="#000" stroke-width="2.8"/>
<polygon points="222.25,351.75 253.00,347.25 266.50,352.50 233.50,357.00" fill="#d0d0d0" stroke="#000" stroke-width="2.8" stroke-linejoin="miter" stroke-miterlimit="2"/>
<polygon points="222.25,351.75 233.50,357.00 233.50,393.00 222.25,388.50" fill="#d0d0d0" stroke="#000" stroke-width="2.8" stroke-linejoin="miter" stroke-miterlimit="2"/>
<polygon points="233.50,357.00 266.00,352.50 266.00,388.50 233.50,393.00" fill="#c5c5c5" stroke="#000" stroke-width="2.8" stroke-linejoin="miter" stroke-miterlimit="2"/>
<circle cx="229" cy="423" r="19" fill="#c5c5c5" stroke="#000" stroke-width="2.8"/>
<polygon points="222.25,413.25 253.00,408.75 265.75,414.00 233.50,417.75" fill="#d0d0d0" stroke="#000" stroke-width="2.8" stroke-linejoin="miter" stroke-miterlimit="2"/>
<polygon points="222.25,413.25 233.50,417.75 233.50,455.00 222.25,450.00" fill="#d0d0d0" stroke="#000" stroke-width="2.8" stroke-linejoin="miter" stroke-miterlimit="2"/>
<polygon points="233.50,417.75 265.75,414.00 266.50,495.00 232.75,500.25" fill="#c5c5c5" stroke="#000" stroke-width="2.8" stroke-linejoin="miter" stroke-miterlimit="2"/>
<polygon points="168.00,668.00 279.00,652.25 279.00,706.00 173.00,718.00 168.50,717.50" fill="#c5c5c5" stroke="#000" stroke-width="2.8" stroke-linejoin="miter" stroke-miterlimit="2"/>
<polygon points="168.00,668.00 173.00,671.00 173.00,718.00 168.50,717.50" fill="#d4d4d4" stroke="#000" stroke-width="2.8" stroke-linejoin="miter" stroke-miterlimit="2"/>
<polygon points="168.00,668.00 279.00,652.25 279.00,655.50 173.00,671.00" fill="#d4d4d4" stroke="#000" stroke-width="2.8" stroke-linejoin="miter" stroke-miterlimit="2"/>
<circle cx="262" cy="682" r="19" fill="#c5c5c5" stroke="#000" stroke-width="2.8"/>
<polygon points="253.60,671.50 282.50,667.00 294.75,670.60 265.00,675.00" fill="#d0d0d0" stroke="#000" stroke-width="2.8" stroke-linejoin="miter" stroke-miterlimit="2"/>
<polygon points="253.60,671.50 265.00,675.00 265.00,712.00 253.60,705.00" fill="#d0d0d0" stroke="#000" stroke-width="2.8" stroke-linejoin="miter" stroke-miterlimit="2"/>
<polygon points="265.00,675.00 294.75,670.60 294.50,749.00 264.50,753.50" fill="#c5c5c5" stroke="#000" stroke-width="2.8" stroke-linejoin="miter" stroke-miterlimit="2"/>
<polygon points="178.50,682.00 204.60,677.60 276.40,709.10 251.00,713.50" fill="#d0d0d0" stroke="#000" stroke-width="2.8" stroke-linejoin="miter" stroke-miterlimit="2"/>
<polygon points="178.50,682.00 251.00,713.50 251.00,722.80 178.50,692.80" fill="#c5c5c5" stroke="#000" stroke-width="2.8" stroke-linejoin="miter" stroke-miterlimit="2"/>
<polygon points="251.00,713.50 276.40,709.30 276.50,719.50 251.00,722.80" fill="#c5c5c5" stroke="#000" stroke-width="2.8" stroke-linejoin="miter" stroke-miterlimit="2"/>
<path d="M247,722.5 L247,727 Q258,731 270,727 L270,721" fill="#eee" stroke="#000" stroke-width="2.2" stroke-linejoin="round" stroke-linecap="round" />
<path d="M465.2,502 L465.5,600 C466.5,640 472,680 478,700 C488,730 510,742 536,742 C562,742 576,728 582,708 C588,688 592,650 592,600 L592,252.5" fill="none" stroke="#000" stroke-width="8.8" stroke-linejoin="round" stroke-linecap="round" />
</svg>
</body></html>
